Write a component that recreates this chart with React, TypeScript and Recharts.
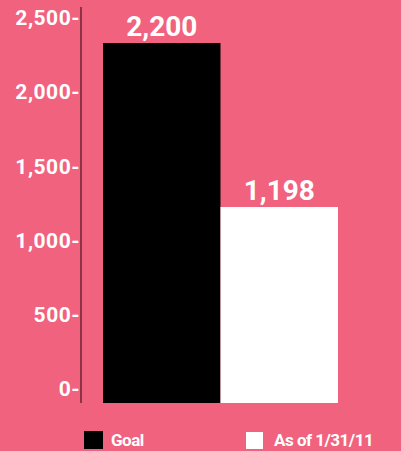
import React from 'react';
import { BarChart, Bar, XAxis, YAxis, Legend, LabelList } from 'recharts';

const categories = ['Total'];
const goalValues = [2200];
const currentValues = [1198];
const seriesNames = ['Goal', 'As of 1/31/11'];
const yTicks = [0, 500, 1000, 1500, 2000, 2500];

const data = categories.map((c, i) => ({ name: c, goal: goalValues[i], current: currentValues[i] }));

const BG = '#F1627E';
const AXIS = '#6d2336';
const FONT = 'Roboto, "Liberation Sans", sans-serif';
const legendX = [84, 246];

const fmt = (v: any) => Number(v).toLocaleString('en-US');

const renderLegend = (props: any) => {
  const payload = props.payload || [];
  return (
    <div style={{ position: 'relative', width: 401, height: 20 }}>
      {payload.map((p: any, i: number) => (
        <div key={i} style={{ position: 'absolute', left: legendX[i], top: 0, display: 'flex', alignItems: 'center' }}>
          <span style={{ display: 'inline-block', width: i === 0 ? 19 : 17, height: i === 0 ? 18 : 17, background: p.color }} />
          <span style={{ marginLeft: i === 0 ? 8 : 11, color: '#fff', fontFamily: FONT, fontWeight: 700, fontSize: 17, letterSpacing: -0.5, lineHeight: '18px' }}>{p.value}</span>
        </div>
      ))}
    </div>
  );
};

export default function App() {
  return (
    <div style={{ width: 401, height: 451, background: BG }}>
      <style>{'body{margin:0;}'}</style>
      <BarChart
        width={401}
        height={451}
        data={data}
        margin={{ top: 7, right: 0, left: 0, bottom: 48 }}
        barGap={0}
      >
        <XAxis
          dataKey="name"
          height={0}
          tick={false}
          tickLine={false}
          axisLine={{ stroke: AXIS, strokeWidth: 1.5 }}
          padding={{ left: 0, right: 41 }}
        />
        <YAxis
          yAxisId="ticks"
          orientation="left"
          width={81}
          type="number"
          domain={[-94, 2571]}
          allowDataOverflow
          ticks={yTicks}
          interval={0}
          tickSize={0}
          tickMargin={1}
          tickLine={false}
          axisLine={{ stroke: AXIS, strokeWidth: 1.5 }}
          tickFormatter={(v: number) => fmt(v) + '-'}
          tick={{ fill: '#fff', fontFamily: FONT, fontWeight: 700, fontSize: 21, letterSpacing: 0.5 }}
        />
        <YAxis yAxisId="bars" orientation="right" width={0} hide type="number" domain={[0, 2420]} allowDataOverflow />
        <Legend
          layout="horizontal"
          verticalAlign="middle"
          align="center"
          itemSorter={(item: any) => seriesNames.indexOf(item.value)}
          wrapperStyle={{ top: 431, left: 0, width: 401 }}
          content={renderLegend}
        />
        <Bar yAxisId="bars" dataKey="goal" name={seriesNames[0]} fill="#000000" barSize={117.5} isAnimationActive={false}>
          <LabelList
            dataKey="goal"
            position="top"
            offset={7}
            formatter={fmt}
            fill="#fff"
            style={{ fontFamily: FONT, fontWeight: 700, fontSize: 28 }}
          />
        </Bar>
        <Bar yAxisId="bars" dataKey="current" name={seriesNames[1]} fill="#ffffff" barSize={117.5} isAnimationActive={false}>
          <LabelList
            dataKey="current"
            position="top"
            offset={7}
            formatter={fmt}
            fill="#fff"
            style={{ fontFamily: FONT, fontWeight: 700, fontSize: 28 }}
          />
        </Bar>
      </BarChart>
    </div>
  );
}
